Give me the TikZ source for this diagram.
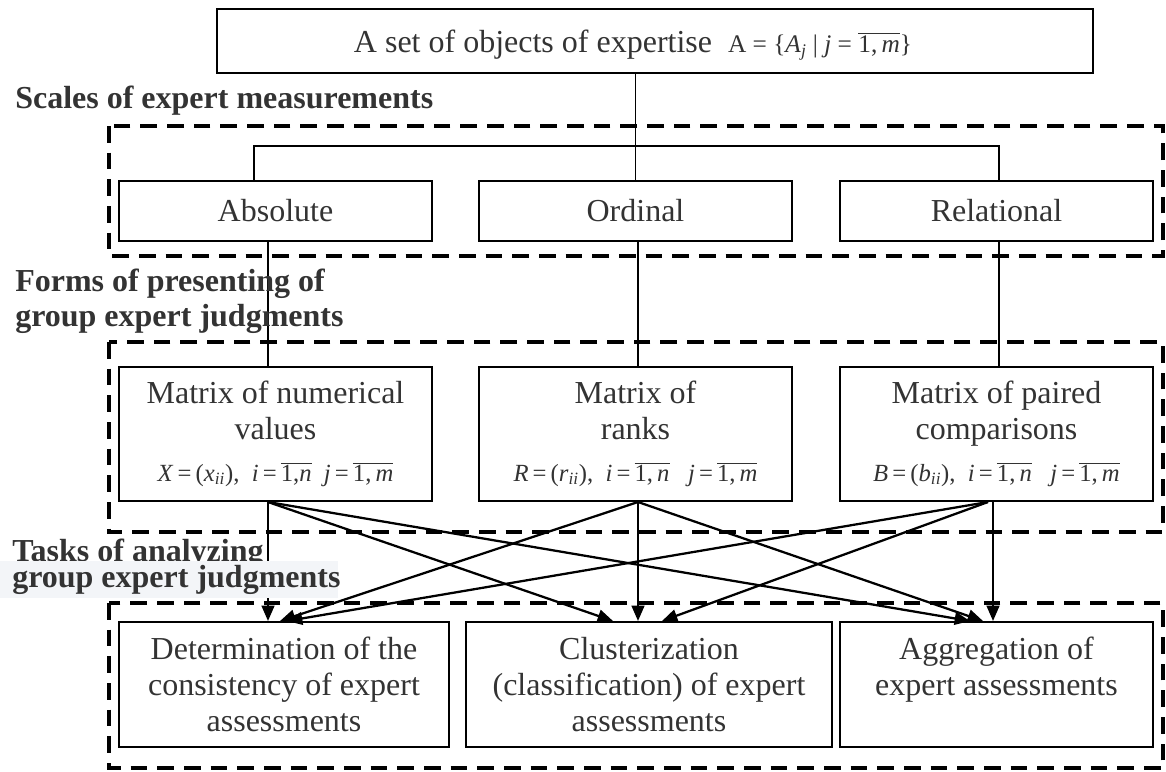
\documentclass[tikz,border=0pt]{standalone}
\usepackage{fontspec}
\setmainfont{Liberation Serif}
\usetikzlibrary{arrows.meta}
\definecolor{ink}{HTML}{333333}
\definecolor{haze}{HTML}{F3F5F8}
% italic letters, italic subscripts and overlined index ranges
\newcommand{\vi}[1]{\textit{#1}}
\newcommand{\lowix}[1]{\textsubscript{\textit{#1}}}
\newcommand{\ovl}[1]{$\overline{\mbox{#1}}$}
\newcommand{\fml}{\fontsize{18.5}{20}\selectfont}
\newcommand{\eqs}{\,=\,}
\begin{document}
\begin{tikzpicture}[x=0.75pt,y=-0.75pt,
  box/.style={draw=black, line width=1.5pt, text=ink, align=center, inner sep=0pt,
    font=\fontsize{24}{27}\selectfont},
  group/.style={draw=black, line width=3pt, dash pattern=on 12.5pt off 7.5pt},
  tree/.style={draw=black, line width=1.1pt},
  flow/.style={draw=black, line width=1.7pt, -{Triangle[length=11.5pt,width=9.5pt]}},
  heading/.style={anchor=base west, inner sep=0pt, text=ink,
    font=\fontsize{24}{27}\selectfont\bfseries}
]
\useasboundingbox (0,0) rectangle (1166,771);

% dashed groups
\draw[group] (109,126) rectangle (1163,256);
\draw[group] (109,342) rectangle (1163,532);
\draw[group] (109,603) rectangle (1163,768);

% top node
\node[box, minimum width=657pt, minimum height=48pt] (set) at (655,41)
  {\raisebox{-8.5pt}[0pt][0pt]{A set of objects of expertise\enspace{\fontsize{19}{21}\selectfont
   A\ =\ \{\vi{A}\lowix{j}\ |\ \vi{j}\ =\ \ovl{1,\,\vi{m}}\}}}\hspace{33pt}};

% scales
\node[box, minimum width=234.75pt, minimum height=45pt] (abs) at (275.5,211) {Absolute};
\node[box, minimum width=234.75pt, minimum height=45pt] (ord) at (635.5,211) {Ordinal};
\node[box, minimum width=234.75pt, minimum height=45pt] (rel) at (996.5,211) {Relational};

% forms of presenting
\node[box, minimum width=234.75pt, minimum height=100.5pt] (mx) at (275.5,434)
  {Matrix of numerical\\values\\[4pt]{\fml \vi{X}\eqs(\vi{x}\lowix{ii}),\ \ \vi{i}\eqs\ovl{1,\vi{n}}\ \ \vi{j}\eqs\ovl{1,\,\vi{m}}}};
\node[box, minimum width=234.75pt, minimum height=100.5pt] (mr) at (635.5,434)
  {Matrix of\\ranks\\[4pt]{\fml \vi{R}\eqs(\vi{r}\lowix{ii}),\ \ \vi{i}\eqs\ovl{1,\,\vi{n}}\ \ \ \vi{j}\eqs\ovl{1,\,\vi{m}}}};
\node[box, minimum width=234.75pt, minimum height=100.5pt] (mb) at (996.5,434)
  {Matrix of paired\\comparisons\\[4pt]{\fml \vi{B}\eqs(\vi{b}\lowix{ii}),\ \ \vi{i}\eqs\ovl{1,\,\vi{n}}\ \ \ \vi{j}\eqs\ovl{1,\,\vi{m}}}};

% tasks
\node[box, minimum width=247.5pt, minimum height=93.75pt] (t1) at (284,684.5)
  {Determination of the\\consistency of expert\\assessments};
\node[box, minimum width=274.5pt, minimum height=93.75pt] (t2) at (649,684.5)
  {Clusterization\\(classification) of expert\\assessments};
\node[box, minimum width=234.75pt, minimum height=93.75pt] (t3) at (996.5,684.5)
  {Aggregation of\\expert assessments\\\vphantom{assessments}};

% tree from the set to the scales
\coordinate (busL) at (254,146);
\coordinate (busR) at (999,146);
\draw[tree] (abs.north -| busL) -- (busL) -- (busR) -- (rel.north -| busR);
\draw[tree] (ord.north |- set.south) -- (ord.north);

% scales to forms
\coordinate (c1) at (268,0);
\coordinate (c2) at (638,0);
\coordinate (c3) at (999,0);
\draw[tree] (abs.south -| c1) -- (mx.north -| c1);
\draw[tree] (ord.south -| c2) -- (mr.north -| c2);
\draw[tree] (rel.south -| c3) -- (mb.north -| c3);

% forms to tasks
\coordinate (s3) at (988,0);
\coordinate (v3) at (993,0);
\coordinate (a12) at (280,0);
\coordinate (a13) at (287,0);
\coordinate (a21) at (613,0);
\coordinate (a23) at (662,0);
\coordinate (a31) at (970,0);
\coordinate (a32) at (983,0);
\draw[flow] (mx.south -| c1) -- (t1.north -| c1);
\draw[flow] (mx.south -| c1) -- (t2.north -| a21);
\draw[flow] (mx.south -| c1) -- (t3.north -| a31);
\draw[flow] (mr.south -| c2) -- (t1.north -| a12);
\draw[flow] (mr.south -| c2) -- (t2.north -| c2);
\draw[flow] (mr.south -| c2) -- (t3.north -| a32);
\draw[flow] (mb.south -| s3) -- (t1.north -| a13);
\draw[flow] (mb.south -| s3) -- (t2.north -| a23);
\draw[flow] (mb.south -| v3) -- (t3.north -| v3);

% section headings
\node[heading] (scales) at (15,108) {Scales of expert measurements};
\node[heading] (forms1) at (15,291) {Forms of presenting of};
\node[heading] (forms2) at (15,326) {group expert judgments};
\node[heading] (tasks1) at (12,561) {Tasks of analyzing};
\fill[haze] (0,561) rectangle (338,598);
\node[heading] (tasks2) at (12,587) {group expert judgments};
\end{tikzpicture}
\end{document}
